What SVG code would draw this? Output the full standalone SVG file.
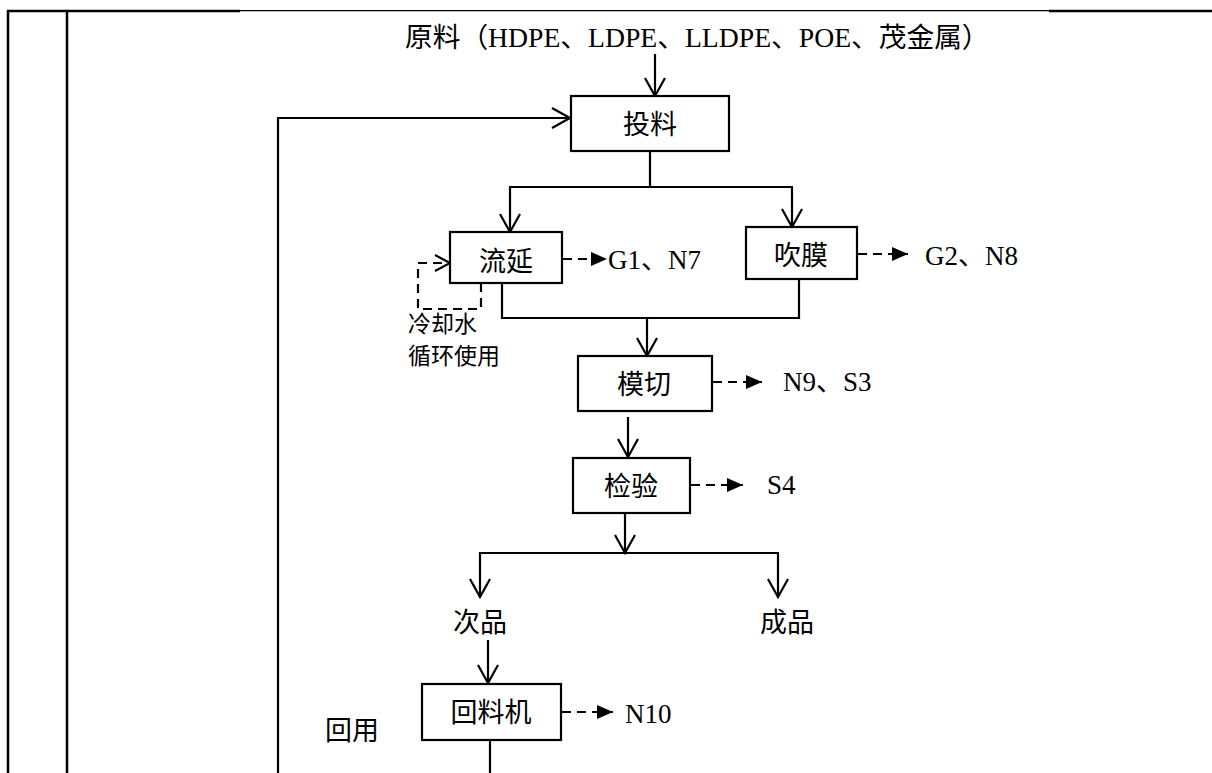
<svg xmlns="http://www.w3.org/2000/svg" width="1212" height="773" viewBox="0 0 1212 773">
<style>
.t{font-family:"Liberation Serif","Noto Sans CJK SC",serif;font-size:27px;fill:#000}
.s{font-size:23px}
.big{font-size:27.7px}
.box{fill:#fff;stroke:#000;stroke-width:2.2}
.ln{fill:none;stroke:#000;stroke-width:2.2}
.dl{fill:none;stroke:#000;stroke-width:2.2;stroke-dasharray:9,6}
.bd{stroke:#000;fill:none}
</style>
<defs>
<marker id="open" markerUnits="userSpaceOnUse" markerWidth="24" markerHeight="24" viewBox="-20 -12 24 24" refX="0" refY="0" orient="auto" overflow="visible">
<path d="M-18,-10 L0,0 L-18,10" fill="none" stroke="#000" stroke-width="2.2"/>
</marker>
<marker id="opensm" markerUnits="userSpaceOnUse" markerWidth="20" markerHeight="20" viewBox="-18 -10 20 20" refX="0" refY="0" orient="auto" overflow="visible">
<path d="M-15,-8 L0,0 L-15,8" fill="none" stroke="#000" stroke-width="2"/>
</marker>
<marker id="tri" markerUnits="userSpaceOnUse" markerWidth="20" markerHeight="20" viewBox="-18 -10 20 20" refX="0" refY="0" orient="auto" overflow="visible">
<path d="M-16,-7 L0,0 L-16,7 Z" fill="#000"/>
</marker>
</defs>

<g id="table-borders">
<line class="bd" x1="8" y1="10" x2="8" y2="773" stroke-width="2.5"/>
<line class="bd" x1="67" y1="10" x2="67" y2="773" stroke-width="2.5"/>
<line class="bd" x1="7" y1="11" x2="240" y2="11" stroke-width="2.5"/>
<line class="bd" x1="240" y1="10.7" x2="1049" y2="10.7" stroke-width="1.2"/>
<line class="bd" x1="1049" y1="11" x2="1212" y2="11" stroke-width="2.5"/>
</g>

<g id="connectors">
<line class="ln" x1="655" y1="54" x2="655" y2="96" marker-end="url(#open)"/>
<polyline class="ln" points="278,773 278,118 570,118" marker-end="url(#open)"/>
<line class="ln" x1="650" y1="151" x2="650" y2="187"/>
<line class="ln" x1="509" y1="187" x2="793" y2="187"/>
<line class="ln" x1="510" y1="187" x2="510" y2="232" marker-end="url(#open)"/>
<line class="ln" x1="792" y1="187" x2="792" y2="227" marker-end="url(#open)"/>
<polyline class="ln" points="502,283 502,318 799,318 799,279"/>
<line class="ln" x1="647" y1="318" x2="647" y2="356" marker-end="url(#open)"/>
<line class="ln" x1="628" y1="417" x2="628" y2="457" marker-end="url(#open)"/>
<line class="ln" x1="625" y1="513" x2="625" y2="553" marker-end="url(#open)"/>
<line class="ln" x1="479" y1="553" x2="779" y2="553"/>
<line class="ln" x1="480" y1="553" x2="480" y2="597" marker-end="url(#open)"/>
<line class="ln" x1="778" y1="553" x2="778" y2="597" marker-end="url(#open)"/>
<line class="ln" x1="488" y1="640" x2="488" y2="683" marker-end="url(#open)"/>
<line class="ln" x1="490" y1="740" x2="490" y2="773"/>
<polyline class="dl" points="481,283 481,309 418,309 418,263 450,263" marker-end="url(#opensm)"/>
<line class="dl" x1="563" y1="259" x2="607" y2="259" marker-end="url(#tri)"/>
<line class="dl" x1="858" y1="254" x2="908" y2="254" marker-end="url(#tri)"/>
<line class="dl" x1="713" y1="382" x2="762" y2="382" marker-end="url(#tri)"/>
<line class="dl" x1="691" y1="485" x2="743" y2="485" marker-end="url(#tri)"/>
<line class="dl" x1="562" y1="712" x2="613" y2="712" marker-end="url(#tri)"/>
</g>

<g id="raw-material">
<text class="t big" x="405" y="47">原料（HDPE、LDPE、LLDPE、POE、茂金属）</text>
</g>

<g id="node-feed">
<rect class="box" x="571" y="96" width="158" height="55"/>
<text class="t" x="650" y="134" text-anchor="middle">投料</text>
</g>

<g id="node-cast">
<rect class="box" x="450" y="232" width="112" height="51"/>
<text class="t" x="506" y="271" text-anchor="middle">流延</text>
</g>

<g id="node-blow">
<rect class="box" x="746" y="227" width="111" height="52"/>
<text class="t" x="801" y="265" text-anchor="middle">吹膜</text>
</g>

<g id="node-die-cut">
<rect class="box" x="578" y="356" width="134" height="55"/>
<text class="t" x="644" y="394" text-anchor="middle">模切</text>
</g>

<g id="node-inspect">
<rect class="box" x="573" y="458" width="117" height="55"/>
<text class="t" x="631" y="496" text-anchor="middle">检验</text>
</g>

<g id="node-recycler">
<rect class="box" x="422" y="684" width="139" height="56"/>
<text class="t" x="491" y="722" text-anchor="middle">回料机</text>
</g>

<g id="labels">
<text class="t" x="608" y="269">G1、N7</text>
<text class="t" x="925" y="265">G2、N8</text>
<text class="t" x="783" y="391">N9、S3</text>
<text class="t" x="767" y="494">S4</text>
<text class="t" x="625" y="723">N10</text>
<text class="t s" x="408" y="332">冷却水</text>
<text class="t s" x="408" y="364">循环使用</text>
<text class="t" x="453" y="632">次品</text>
<text class="t" x="760" y="632">成品</text>
<text class="t" x="325" y="740">回用</text>
</g>
</svg>
